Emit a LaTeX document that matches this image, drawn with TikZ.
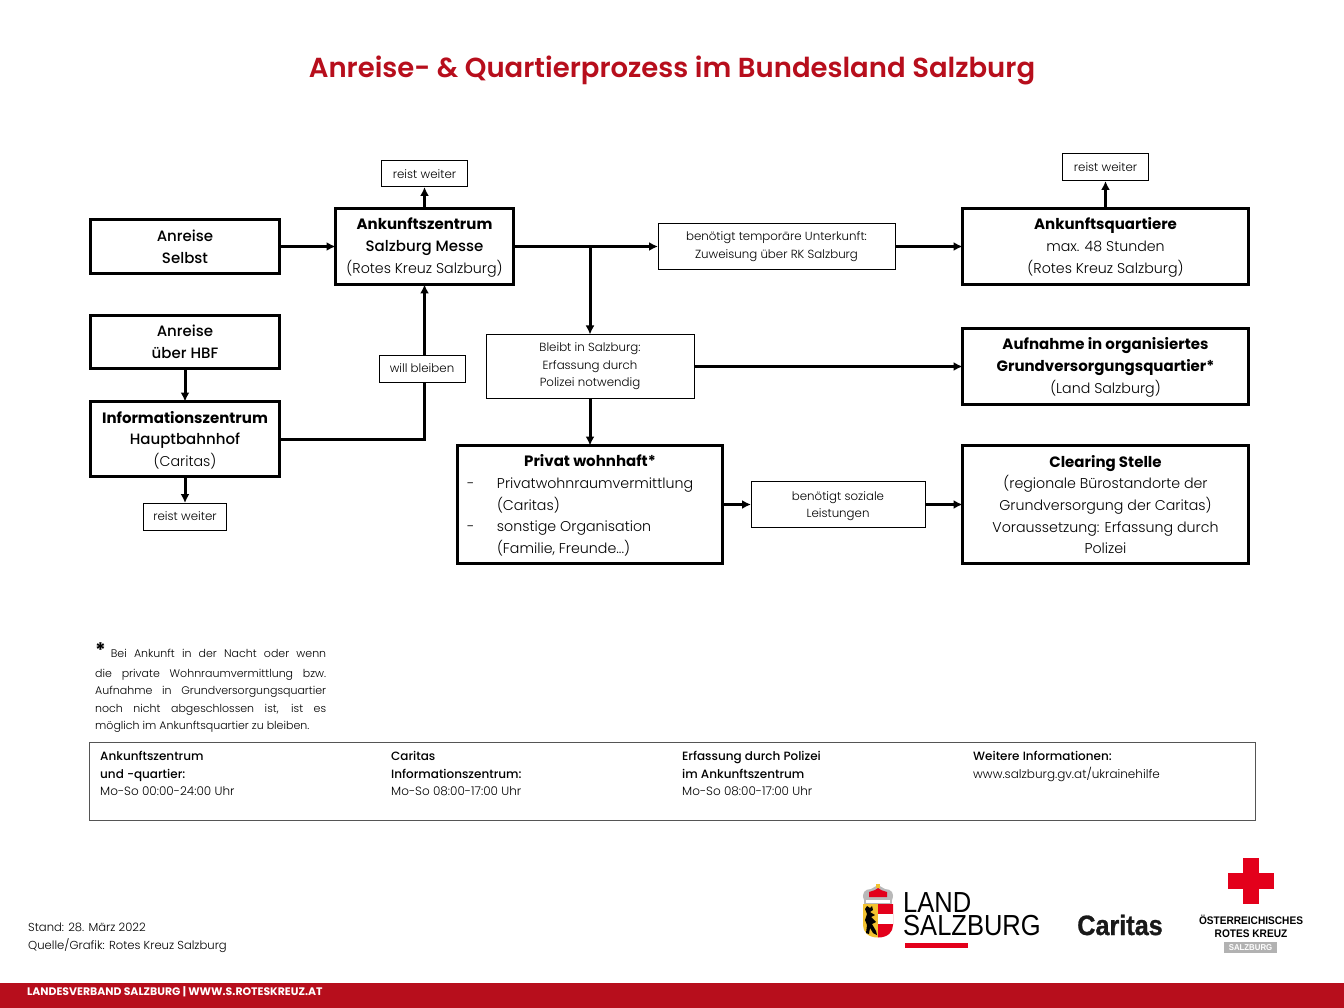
\documentclass[tikz,border=0pt]{standalone}
\usepackage{fontspec}
\setmainfont{Poppins}[UprightFont=* Light,BoldFont=* Bold]
\newfontfamily\medfont{Poppins Medium}
\newfontfamily\semifont{Poppins SemiBold}
\newfontfamily\logofont{Liberation Sans}[FakeStretch=0.88]
\newfontfamily\markfont{Liberation Sans}[FakeStretch=0.92]
\newfontfamily\caritasfont{Liberation Sans Bold}[FakeBold=1,FakeStretch=0.9]
\usetikzlibrary{arrows.meta}
\definecolor{rkred}{HTML}{B70E1C}
\definecolor{crossred}{HTML}{E3001B}
\definecolor{framegray}{HTML}{555555}
\definecolor{crestyellow}{HTML}{F2C230}
\newcommand{\headline}[1]{{\fontsize{15}{21.6}\selectfont\bfseries #1}}
\newcommand{\medline}[1]{{\fontsize{15}{21.6}\medfont #1}}
\newcommand{\hoursline}[1]{{\fontsize{12}{17.6}\medfont #1}}
\newcommand{\topgap}{\rule{0pt}{14pt}}
\tikzset{
  bigbox/.style={draw,line width=3pt,fill=white,align=center,inner sep=0pt,outer sep=0pt,
    font=\fontsize{14.2}{21.6}\selectfont},
  smallbox/.style={draw,line width=1pt,fill=white,align=center,inner sep=0pt,outer sep=0pt,
    font=\fontsize{11.8}{17.6}\selectfont},
  flow/.style={line width=3pt,-{Latex[length=9pt,width=9pt]}},
  hours/.style={anchor=north west,align=left,inner sep=0pt,font=\fontsize{12}{17.6}\selectfont},
  small/.style={anchor=north west,align=left,inner sep=0pt,font=\fontsize{11}{17.5}\selectfont}
}
\begin{document}
\begin{tikzpicture}
  [x=1pt,y=-1pt]
  \useasboundingbox (0,0) rectangle (1344,1008);
  \node[text=rkred,inner sep=0pt,font=\fontsize{27.5}{30}\semifont] (title) at (672,70)
    {Anreise- \& Quartierprozess im Bundesland Salzburg};
  % left column
  \node[bigbox,minimum width=189,minimum height=54] (selbst) at (185,246.5) {\medline{Anreise}\\\medline{Selbst}};
  \node[bigbox,minimum width=189,minimum height=53] (hbf) at (185,342) {\medline{Anreise}\\\medline{über HBF}};
  \node[bigbox,minimum width=189,minimum height=75] (info) at (185,439)
    {\topgap\headline{Informationszentrum}\\\medline{Hauptbahnhof}\\(Caritas)};
  \node[smallbox,minimum width=83,minimum height=27] (weiterc) at (185,516.5) {reist weiter};
  % middle
  \node[bigbox,minimum width=178,minimum height=76] (messe) at (424.5,246.5)
    {\topgap\headline{Ankunftszentrum}\\\medline{Salzburg Messe}\\(Rotes Kreuz Salzburg)};
  \node[smallbox,minimum width=86,minimum height=26] (weitera) at (424.5,174) {reist weiter};
  \node[smallbox,minimum width=237,minimum height=46] (temp) at (776.5,246.5)
    {benötigt temporäre Unterkunft:\\Zuweisung über RK Salzburg};
  \node[smallbox,minimum width=208,minimum height=64] (bleibt) at (590,366.5)
    {Bleibt in Salzburg:\\Erfassung durch\\Polizei notwendig};
  \node[bigbox,minimum width=265,minimum height=118,text width=246,align=none] (privat) at (590,504.5)
    {{\centering\topgap\headline{Privat wohnhaft*}\par}\raggedright
     \makebox[30pt][l]{-}Privatwohnraumvermittlung\\
     \hspace*{30pt}(Caritas)\\
     \makebox[30pt][l]{-}sonstige Organisation\\
     \hspace*{30pt}(Familie, Freunde...)};
  \node[smallbox,minimum width=174,minimum height=46] (sozial) at (838,504.5)
    {\rule{0pt}{12pt}benötigt soziale\\Leistungen};
  % right column
  \node[bigbox,minimum width=286,minimum height=76] (quartiere) at (1105.5,246.5)
    {\topgap\headline{Ankunftsquartiere}\\max. 48 Stunden\\(Rotes Kreuz Salzburg)};
  \node[smallbox,minimum width=86,minimum height=27] (weiterb) at (1105.5,167.5) {reist weiter};
  \node[bigbox,minimum width=286,minimum height=76] (aufnahme) at (1105.5,366.5)
    {\topgap\headline{Aufnahme in organisiertes}\\\headline{Grundversorgungsquartier*}\\(Land Salzburg)};
  \node[bigbox,minimum width=286,minimum height=118] (clearing) at (1105.5,504.5)
    {\headline{Clearing Stelle}\\(regionale Bürostandorte der\\Grundversorgung der Caritas)\\Voraussetzung: Erfassung durch\\Polizei};
  % connectors
  \coordinate (split) at (590,246.5);
  \foreach \from/\to in {selbst/messe,hbf/info,info/weiterc,messe/weitera,temp/quartiere,
      quartiere/weiterb,bleibt/aufnahme,bleibt/privat,privat/sozial,sozial/clearing}
    \draw[flow] (\from) -- (\to);
  \draw[flow] (messe.east) -- (temp.west);
  \draw[flow] (split) -- (bleibt.north);
  \draw[flow] (info.east) -| (messe.south);
  \node[smallbox,minimum width=86,minimum height=27] (will) at (422,368.5) {will bleiben};
  % footnote
  \node[small,text width=231,align=justify] (note) at (95,642)
    {{\fontsize{20}{19}\selectfont\bfseries *}\hspace{5pt}Bei Ankunft in der Nacht oder wenn\rule[-11pt]{0pt}{1pt}\linebreak
     die private Wohnraumvermittlung bzw.\linebreak
     Aufnahme in Grundversorgungsquartier\linebreak
     noch nicht abgeschlossen ist, ist es\linebreak
     möglich im Ankunftsquartier zu bleiben.};
  % opening hours
  \node[draw=framegray,line width=1pt,minimum width=1165.5,minimum height=78.5,anchor=north west,inner sep=0pt] (frame) at (89,741.5) {};
  \node[hours] (hoursa) at (100,751) {\hoursline{Ankunftszentrum}\\\hoursline{und -quartier:}\\Mo-So 00:00-24:00 Uhr};
  \node[hours] (hoursb) at (391,751) {\hoursline{Caritas}\\\hoursline{Informationszentrum:}\\Mo-So 08:00-17:00 Uhr};
  \node[hours] (hoursc) at (682,751) {\hoursline{Erfassung durch Polizei}\\\hoursline{im Ankunftszentrum}\\Mo-So 08:00-17:00 Uhr};
  \node[hours] (hoursd) at (973,751) {\hoursline{Weitere Informationen:}\\www.salzburg.gv.at/ukrainehilfe};
  % stand
  \node[small,font=\fontsize{11.6}{17.4}\selectfont] (stand) at (28,923) {Stand: 28. März 2022\\Quelle/Grafik: Rotes Kreuz Salzburg};
  % logo land
  \fill[crestyellow] (863,904) -- (878,904) -- (878,937.5) .. controls (868,937.5) and (863,932) .. (863,925) -- cycle;
  \fill[crossred] (878,904) -- (893,904) -- (893,925) .. controls (893,932) and (888,937.5) .. (878,937.5) -- cycle;
  \fill[white] (878,914) rectangle (893,924);
  \fill[black] (865,909) -- (867,906) -- (870,908) -- (872,906) -- (873,910) -- (870,912) -- (875,915) -- (871,917) -- (876,922) -- (872,924) -- (876,931) -- (877,935) -- (873,933) -- (870,928) -- (869,934) -- (866,933) -- (867,925) -- (865,920) -- (867,914) -- cycle;
  \fill[gray!55] (864,900) .. controls (861,893) and (865,889) .. (871,889) -- (878,885) -- (885,889) .. controls (891,889) and (895,893) .. (892,900) -- cycle;
  \fill[crossred] (869,897) -- (869,892) -- (875,890) -- (878,888) -- (881,890) -- (887,892) -- (887,897) -- cycle;
  \fill[crestyellow] (876,884) rectangle (880,888);
  \fill[gray!55] (864,899) rectangle (892,903.5);
  \fill[white] (866,900) rectangle (890,902.5);
  \node[anchor=north west,inner sep=0pt,text=black,align=left,font=\logofont\fontsize{29}{23}\selectfont] (land) at (903,892) {LAND\\SALZBURG};
  \fill[crossred] (905,943) rectangle (968,948);
  % logo caritas
  \node[inner sep=0pt,text=black!90,font=\caritasfont\fontsize{28}{28}\selectfont] (caritas) at (1120,925) {Caritas};
  % logo red cross
  \fill[crossred] (1243,858) rectangle (1259,904);
  \fill[crossred] (1228,873) rectangle (1274,889);
  \node[inner sep=0pt,align=center,font=\markfont\bfseries\fontsize{11}{13}\selectfont] (oerk) at (1251,926) {ÖSTERREICHISCHES\\ROTES KREUZ};
  \node[fill=gray!60,text=white,inner sep=0pt,minimum width=53,minimum height=11,font=\markfont\bfseries\fontsize{8.5}{8}\selectfont] (sbg) at (1250.5,947.5) {SALZBURG};
  % footer
  \fill[rkred] (0,983) rectangle (1344,1008);
  \node[anchor=west,inner sep=0pt,text=white,font=\fontsize{10.9}{12}\selectfont\bfseries] (verband) at (27,992) {LANDESVERBAND SALZBURG | WWW.S.ROTESKREUZ.AT};
\end{tikzpicture}
\end{document}
